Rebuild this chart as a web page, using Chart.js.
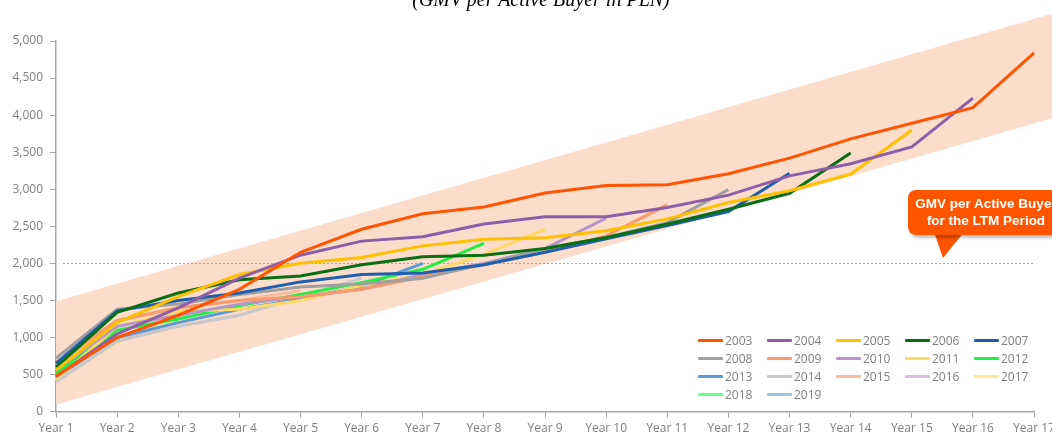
<!DOCTYPE html>
<html>
<head>
<meta charset="utf-8">
<script src="https://cdn.jsdelivr.net/npm/chart.js@4.4.1/dist/chart.umd.min.js"></script>
<style>
    html, body { margin: 0; padding: 0; background: #fff; overflow: hidden; width: 1052px; height: 433px; }
    #wrap { position: absolute; left: 0; top: 0; width: 1059px; height: 440px; }
    #title { position: absolute; top: -11px; left: 0; width: 1082px; text-align: center;
             font: italic 20px/20px "Liberation Serif", "DejaVu Serif", serif; color: #000; }
    #legend { position: absolute; left: 698px; top: 331px; display: grid;
              grid-template-columns: repeat(5, 69px); grid-auto-rows: 18px; }
    .item { display: flex; align-items: center; font: 12px "Open Sans", sans-serif; color: #7f7f7f; }
    .swatch { width: 25px; height: 3px; margin-right: 2px; border-radius: 1px; }
    #callout { position: absolute; left: 908px; top: 190px; width: 156px; height: 45px;
               background: #ff5500; border-radius: 8px; box-shadow: 2px 3px 3px rgba(0,0,0,0.25);
               color: #fff; font: bold 13.5px/17px "Liberation Sans", Arial, sans-serif;
               text-align: center; padding-top: 5px; box-sizing: border-box; white-space: nowrap; }
    #tail { position: absolute; left: 920px; top: 232px; }
</style>
</head>
<body>
<div id="wrap"><canvas id="gmvChart"></canvas></div>
<div id="title">(GMV per Active Buyer in PLN)</div>
<svg id="tail" width="50" height="30"><polygon points="14,0 44,0 23,26" fill="#ff5500"/></svg>
<div id="callout">GMV per Active Buyer<br>for the LTM Period</div>
<div id="legend"></div>
<script>
// x categories
const years = ['Year 1', 'Year 2', 'Year 3', 'Year 4', 'Year 5', 'Year 6', 'Year 7', 'Year 8', 'Year 9',
    'Year 10', 'Year 11', 'Year 12', 'Year 13', 'Year 14', 'Year 15', 'Year 16', 'Year 17'];

// cohorts (GMV per active buyer, PLN)
const c2003 = [480, 1000, 1300, 1650, 2150, 2460, 2670, 2760, 2950, 3050, 3060, 3210, 3420, 3680, 3890, 4100, 4840];
const c2004 = [470, 1050, 1400, 1800, 2110, 2300, 2360, 2530, 2630, 2630, 2755, 2920, 3180, 3345, 3570, 4230];
const c2005 = [560, 1200, 1550, 1850, 2000, 2080, 2236, 2326, 2345, 2440, 2600, 2820, 2980, 3205, 3800];
const c2006 = [600, 1340, 1600, 1780, 1830, 1980, 2090, 2110, 2200, 2350, 2530, 2730, 2945, 3490];
const c2007 = [650, 1360, 1500, 1600, 1750, 1850, 1870, 1980, 2150, 2330, 2510, 2700, 3215];
const c2008 = [720, 1380, 1450, 1580, 1680, 1720, 1800, 1990, 2200, 2350, 2550, 2995];
const c2009 = [660, 1230, 1400, 1500, 1550, 1650, 1820, 1980, 2150, 2370, 2790];
const c2010 = [560, 1150, 1300, 1450, 1550, 1650, 1850, 2000, 2200, 2610];
const c2011 = [430, 1150, 1350, 1380, 1500, 1700, 1850, 2120, 2460];
const c2012 = [520, 1100, 1250, 1430, 1580, 1740, 1920, 2270];
const c2013 = [470, 1000, 1200, 1380, 1520, 1690, 2000];
const c2014 = [400, 950, 1150, 1300, 1550, 1800];
const c2015 = [610, 1220, 1400, 1500, 1630];
const c2016 = [450, 1000, 1150, 1300];
const c2017 = [420, 930, 1250];
const c2018 = [500, 1050];
const c2019 = [550];

const cohortNames = ['2003', '2004', '2005', '2006', '2007', '2008', '2009', '2010', '2011',
    '2012', '2013', '2014', '2015', '2016', '2017', '2018', '2019'];
const cohortValues = [c2003, c2004, c2005, c2006, c2007, c2008, c2009, c2010, c2011,
    c2012, c2013, c2014, c2015, c2016, c2017, c2018, c2019];
const cohortColors = ['#ff5500', '#8e5ea8', '#ffc000', '#0a6e14', '#1f5fad', '#a0a0a0', '#f79a6c', '#b795cc',
    '#ffd966', '#22ee44', '#5b9bd5', '#c8c8c8', '#f8bc9c', '#dbbde3', '#ffe699', '#66ff88', '#9dc3e6'];

// shaded corridor (index position on x, value at upper and lower edge)
const bandX = [0, 17];
const bandUpper = [1490, 5536];
const bandLower = [95, 4124];
const ltmLevel = 2000;

const backdrop = {
    id: 'backdrop',
    beforeDatasetsDraw(chart) {
        const { ctx, scales: { x, y } } = chart;
        ctx.save();
        ctx.fillStyle = '#fcdccb';
        ctx.beginPath();
        ctx.moveTo(x.getPixelForValue(bandX[0]), y.getPixelForValue(bandUpper[0]));
        ctx.lineTo(x.getPixelForValue(bandX[1]), y.getPixelForValue(bandUpper[1]));
        ctx.lineTo(x.getPixelForValue(bandX[1]), y.getPixelForValue(bandLower[1]));
        ctx.lineTo(x.getPixelForValue(bandX[0]), y.getPixelForValue(bandLower[0]));
        ctx.closePath();
        ctx.fill();
        // LTM reference level
        const ly = Math.round(y.getPixelForValue(ltmLevel)) + 0.5;
        ctx.strokeStyle = '#a6a6a6';
        ctx.lineWidth = 1;
        ctx.setLineDash([2, 2]);
        ctx.beginPath();
        ctx.moveTo(x.left + 7, ly);
        ctx.lineTo(x.right, ly);
        ctx.stroke();
        ctx.restore();
    }
};

document.addEventListener('DOMContentLoaded', function() {
    const ctx = document.getElementById('gmvChart').getContext('2d');

    const datasets = cohortNames.map((name, i) => ({
        label: name,
        data: cohortValues[i],
        borderColor: cohortColors[i],
        backgroundColor: cohortColors[i],
        borderWidth: 3,
        tension: 0,
        pointRadius: 0,
        fill: false
    }));

    const chart = new Chart(ctx, {
        type: 'line',
        data: { labels: years, datasets: datasets },
        options: {
            responsive: true,
            maintainAspectRatio: false,
            animation: false,
            layout: { padding: { top: 41, left: 0, right: 0, bottom: 0 } },
            plugins: {
                legend: { display: false },
                tooltip: { enabled: false }
            },
            scales: {
                x: {
                    offset: false,
                    grid: { drawOnChartArea: false, color: '#a6a6a6', tickLength: 6 },
                    border: { color: '#a6a6a6', width: 1.5 },
                    ticks: { color: '#7f7f7f', font: { family: 'Open Sans', size: 12 }, padding: 4,
                             maxRotation: 0, autoSkip: false }
                },
                y: {
                    min: 0,
                    max: 5000,
                    afterFit: function(scale) { scale.width = 56; },
                    grid: { drawOnChartArea: false, color: '#a6a6a6', tickLength: 6 },
                    border: { color: '#a6a6a6', width: 1.5 },
                    ticks: {
                        stepSize: 500,
                        color: '#7f7f7f',
                        font: { family: 'Open Sans', size: 12 },
                        padding: 7,
                        callback: v => v.toLocaleString('en-US')
                    }
                }
            }
        },
        plugins: [backdrop]
    });

    // legend, five per row
    const legend = document.getElementById('legend');
    chart.data.datasets.forEach(ds => {
        const item = document.createElement('div');
        item.className = 'item';
        item.innerHTML = '<span class="swatch" style="background:' + ds.borderColor + '"></span>' + ds.label;
        legend.appendChild(item);
    });
});
</script>
</body>
</html>
